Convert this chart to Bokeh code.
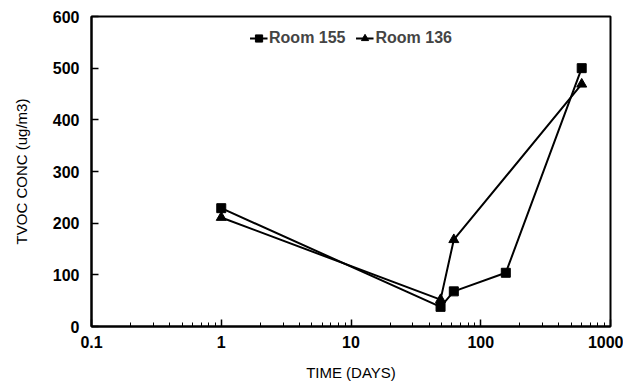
from bokeh.plotting import figure
from bokeh.models import LogTicker, FixedTicker, Legend, LegendItem, Range1d
from bokeh.embed import file_html
from bokeh.resources import INLINE

days_155 = [1, 49, 62, 156, 600]
conc_155 = [229, 38, 68, 104, 500]
days_136 = [1, 49, 62, 600]
conc_136 = [211, 52, 168, 469]
y_ticks = [0, 100, 200, 300, 400, 500, 600]

p = figure(width=623, height=383, x_axis_type="log", output_backend="svg",
           toolbar_location=None, x_range=Range1d(0.1, 1000), y_range=Range1d(0, 600),
           min_border_left=91, min_border_right=13, min_border_top=16, min_border_bottom=55)
p.grid.visible = False
p.outline_line_color = "black"
p.outline_line_width = 2

font = "Liberation Sans"
for ax in (p.xaxis[0], p.yaxis[0]):
    ax.axis_line_width = 2
    ax.major_tick_in = 7
    ax.major_tick_out = 0
    ax.minor_tick_in = 4
    ax.minor_tick_out = 0
    ax.major_tick_line_width = 1.5
    ax.major_label_text_font = font
    ax.major_label_text_font_size = "16px"
    ax.major_label_text_font_style = "bold"
    ax.major_label_text_color = "black"
    ax.axis_label_text_font = font
    ax.axis_label_text_font_size = "15px"
    ax.axis_label_text_font_style = "normal"
    ax.axis_label_text_color = "black"

p.xaxis.ticker = LogTicker(num_minor_ticks=10, desired_num_ticks=5)
p.xaxis.major_label_overrides = {0.1: "0.1", 1: "1", 10: "10", 100: "100", 1000: "1000"}
p.yaxis.ticker = FixedTicker(ticks=y_ticks)
p.xaxis.axis_label = "TIME (DAYS)"
p.yaxis.axis_label = "TVOC CONC (ug/m3)"
p.xaxis.major_label_standoff = 9
p.yaxis.major_label_standoff = 12
p.yaxis.axis_label_standoff = 20
p.xaxis.axis_label_standoff = 13

l1 = p.line(days_155, conc_155, line_color="black", line_width=2)
m1 = p.scatter(days_155, conc_155, marker="square", size=9, color="black")
l2 = p.line(days_136, conc_136, line_color="black", line_width=2)
m2 = p.scatter(days_136, conc_136, marker="triangle", size=10, color="black")

legend = Legend(items=[LegendItem(label="Room 155", renderers=[l1, m1]),
                       LegendItem(label="Room 136", renderers=[l2, m2])],
                location="top_center", orientation="horizontal",
                border_line_alpha=0, background_fill_alpha=0,
                label_text_font=font, label_text_font_size="16px",
                label_text_font_style="bold", glyph_width=18, label_standoff=2,
                spacing=10, padding=2, margin=10)
p.add_layout(legend)

open("out.html", "w").write(file_html(p, INLINE))
